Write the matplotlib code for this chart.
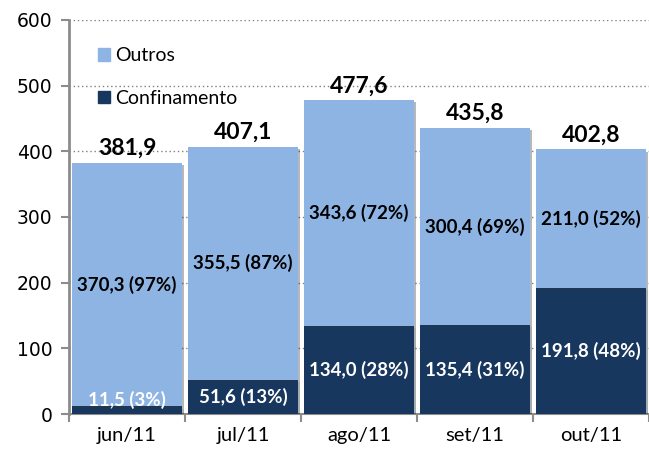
import numpy as np
import matplotlib
matplotlib.use("Agg")
import matplotlib.pyplot as plt
import matplotlib.patheffects as pe
from matplotlib.patches import Patch

meses = ["jun/11", "jul/11", "ago/11", "set/11", "out/11"]
confinamento = [11.5, 51.6, 134.0, 135.4, 191.8]
outros = [370.3, 355.5, 343.6, 300.4, 211.0]
totais = [381.9, 407.1, 477.6, 435.8, 402.8]

cor_outros = "#8EB4E3"
cor_conf = "#17375E"
cinza = "#8C8C8C"

plt.rcParams['font.family'] = ['Lato', 'DejaVu Sans']

fig = plt.figure(figsize=(6.49, 4.53), dpi=100)
ax = fig.add_axes([69/649, 39/453, 580/649, 394/453])

x = np.arange(len(meses))
sombra = [pe.SimplePatchShadow(offset=(1.5, -1.5), alpha=0.35), pe.Normal()]
b1 = ax.bar(x, confinamento, width=0.95, color=cor_conf, zorder=3)
b2 = ax.bar(x, outros, width=0.95, bottom=confinamento, color=cor_outros, zorder=3)
for b in list(b1) + list(b2):
    b.set_path_effects(sombra)

# rotulos
for i in range(len(meses)):
    tot = confinamento[i] + outros[i]
    pc = round(100 * confinamento[i] / tot)
    po = round(100 * outros[i] / tot)
    yc = max(confinamento[i] / 2, 22)
    ax.text(x[i], yc, ("%.1f (%d%%)" % (confinamento[i], pc)).replace(".", ","),
            ha="center", va="center", color="white", fontsize=13.5, fontweight="bold", zorder=5)
    yo = confinamento[i] + outros[i] / 2
    ax.text(x[i], yo, ("%.1f (%d%%)" % (outros[i], po)).replace(".", ","),
            ha="center", va="center", color="black", fontsize=13.5, fontweight="bold", zorder=5)
    ax.annotate(("%.1f" % totais[i]).replace(".", ","), (x[i], totais[i]),
                xytext=(0, 3), textcoords="offset points",
                ha="center", va="bottom", fontsize=16.5, fontweight="bold", zorder=5)

ax.set_xlim(-0.5, 4.5)
ax.set_ylim(0, 600)
ax.set_yticks(range(0, 700, 100))
ax.set_yticklabels([str(v) for v in range(0, 700, 100)], fontfamily="DejaVu Sans", fontsize=13.5)
ax.set_xticks(x)
ax.set_xticklabels(meses, fontsize=14.5)
ax.set_xticks(np.arange(-0.5, 5, 1), minor=True)
ax.tick_params(axis="x", which="major", length=0, pad=9)
ax.tick_params(axis="x", which="minor", length=6, color=cinza, width=1.5)
ax.tick_params(axis="y", length=6, color=cinza, width=1.5, pad=6)

ax.yaxis.grid(True, linestyle=(0, (1, 2)), color="#808080", linewidth=1, zorder=0)
ax.set_axisbelow(True)
for s in ["top", "right"]:
    ax.spines[s].set_visible(False)
ax.spines["left"].set_color(cinza)
ax.spines["left"].set_linewidth(2)
ax.spines["bottom"].set_color(cinza)
ax.spines["bottom"].set_linewidth(1.5)

handles = [Patch(color=cor_outros), Patch(color=cor_conf)]
ax.legend(handles, ["Outros", "Confinamento"], loc="upper left", bbox_to_anchor=(0.02, 0.975),
          frameon=False, fontsize=14, handlelength=0.6, handleheight=0.6,
          handletextpad=0.3, labelspacing=1.3)

fig.savefig("out.png", dpi=100)
